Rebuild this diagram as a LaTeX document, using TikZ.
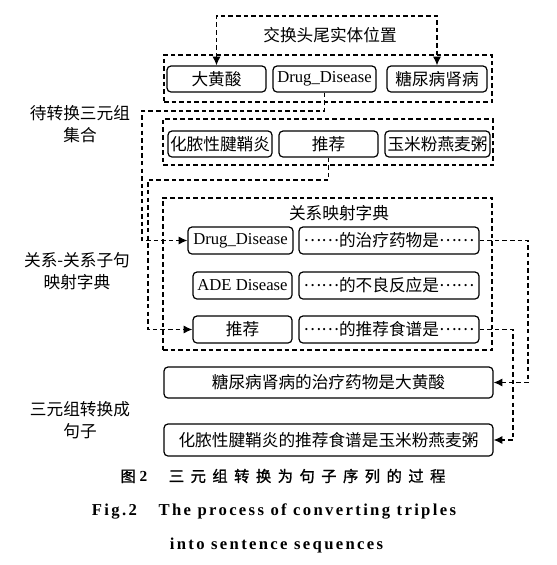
\documentclass[tikz,border=0pt]{standalone}
\usepackage{fontspec}
\setmainfont{Liberation Serif}
\newfontfamily\cjk{Noto Sans CJK SC}
\newfontfamily\cjkbold[FakeBold=1.2]{Noto Sans CJK SC}
\newfontfamily\cjkcap[LetterSpace=42,FakeBold=1.2]{Noto Sans CJK SC}
\newfontfamily\figfont[LetterSpace=14]{Liberation Serif}
\newcommand\eld{\raisebox{0.32em}{……}}
\usetikzlibrary{arrows.meta}
\begin{document}
\begin{tikzpicture}[x=0.75pt,y=-0.75pt,
  txt/.style={font=\fontsize{12.5}{16.5}\selectfont},
  box/.style={draw, rounded corners=3pt, line width=0.9pt, inner sep=0pt, txt},
  r1row/.style={box, minimum height=19.5pt},
  drow/.style={box, minimum height=20.25pt},
  dbox/.style={draw, dash pattern=on 3.4pt off 2.3pt, line width=0.9pt, inner sep=0pt},
  conn/.style={draw, dash pattern=on 3.4pt off 2.3pt, line width=0.9pt, -{Latex[length=6.5pt,width=6pt]}},
  lab/.style={txt, align=center, inner sep=0pt}]
\useasboundingbox (0,0) rectangle (557,565);
% group frames
\node[dbox, minimum width=246pt, minimum height=35.25pt] (g1) at (328,78.5) {};
\node[dbox, minimum width=247.5pt, minimum height=34.5pt] (g2) at (328,142) {};
\node[dbox, minimum width=246.75pt, minimum height=114pt] (g3) at (327.5,274) {};
% row 1
\node[r1row, minimum width=74.25pt] (a1) at (216.5,79) {\cjk 大黄酸};
\node[r1row, minimum width=77.25pt] (a2) at (324.5,79) {Drug\_Disease};
\node[r1row, minimum width=75pt] (a3) at (437,79) {\cjk 糖尿病肾病};
% row 2
\node[r1row, minimum width=78pt] (b1) at (220,144) {\cjk 化脓性腱鞘炎};
\node[r1row, minimum width=74.25pt] (b2) at (328.5,144) {\cjk 推荐};
\node[r1row, minimum width=78.75pt] (b3) at (437.5,144) {\cjk 玉米粉燕麦粥};
% dictionary
\node[lab] (dt) at (339,213) {\cjk 关系映射字典};
\node[drow, minimum width=78.75pt] (d1) at (240.5,240.5) {Drug\_Disease};
\node[drow, minimum width=135pt] (e1) at (389,240.5) {\cjk \eld 的治疗药物是\eld};
\node[drow, minimum width=74.25pt] (d2) at (242.5,285.5) {ADE Disease};
\node[drow, minimum width=135pt] (e2) at (389,285.5) {\cjk \eld 的不良反应是\eld};
\node[drow, minimum width=74.25pt] (d3) at (242.5,329.5) {\cjk 推荐};
\node[drow, minimum width=135pt] (e3) at (389,329.5) {\cjk \eld 的推荐食谱是\eld};
% sentences
\node[box, minimum width=246.75pt, minimum height=23.25pt] (s1) at (328.5,382.5) {\cjk 糖尿病肾病的治疗药物是大黄酸};
\node[box, minimum width=246.75pt, minimum height=24pt] (s2) at (328.5,440) {\cjk 化脓性腱鞘炎的推荐食谱是玉米粉燕麦粥};
% left labels
\node[lab] (l1) at (80,124) {\cjk 待转换三元组\\\cjk 集合};
\node[lab] (l2) at (77,271) {\cjk 关系-关系子句\\\cjk 映射字典};
\node[lab] (l3) at (80,420) {\cjk 三元组转换成\\\cjk 句子};
% top swap
\node[lab] (sw) at (330,35) {\cjk 交换头尾实体位置};
\coordinate (top) at (330,16);
\draw[conn, {Latex[length=6.5pt,width=6pt]}-{Latex[length=6.5pt,width=6pt]}] (a1.north) |- (top) -| (a3.north);
% connectors
\coordinate (c1) at (142,111);
\draw[conn] (a2.south) |- (c1) |- (d1.west);
\coordinate (c2) at (148,180);
\draw[conn] (b2.south) |- (c2) |- (d3.west);
\coordinate (r1) at (528,382.5);
\draw[conn] (e1.east) -| (r1) -- (s1.east);
\coordinate (r2) at (513,440);
\draw[conn] (e3.east) -| (r2) -- (s2.east);
% caption
\node[inner sep=0pt, font=\fontsize{11.5}{13}\selectfont] (cap1) at (283,476) {{\cjkbold 图}\hspace{0.25em}{\figfont\bfseries 2}\hspace{1.4em}{\cjkcap 三元组转换为句子序列的过程}};
\node[inner sep=0pt, font=\fontsize{12.5}{14}\selectfont\bfseries] (cap2) at (274,511) {\figfont Fig.2\hspace{1.3em}The process of converting triples};
\node[inner sep=0pt, font=\fontsize{12.5}{14}\selectfont\bfseries] (cap3) at (276.5,545) {\figfont into sentence sequences};
\end{tikzpicture}
\end{document}
